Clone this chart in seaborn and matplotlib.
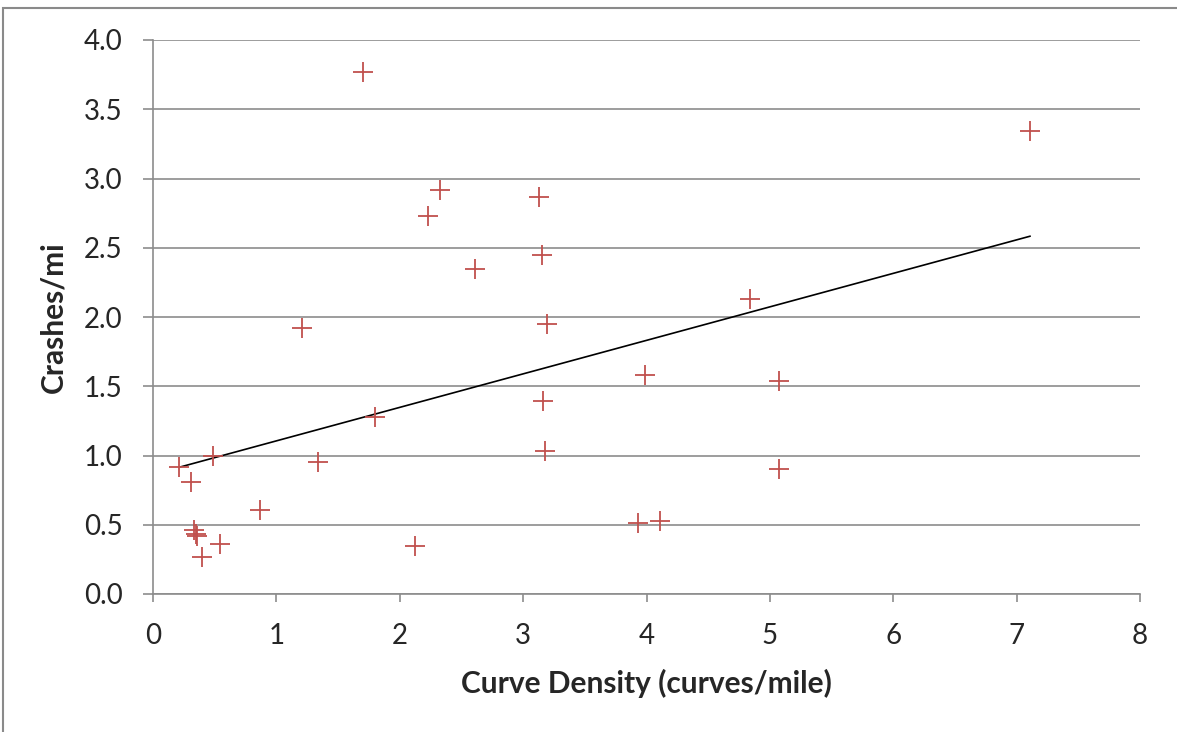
#%% IMPORTS
from matplotlib import pyplot as plt
from matplotlib.patches import Rectangle
from pandas import DataFrame
import seaborn as sns

#%% DATA
curve_density = [0.21, 0.49, 0.31, 0.87, 0.33, 0.35, 0.36, 0.54, 0.40,
                 1.70, 1.21, 1.80, 1.34, 2.12, 2.23, 2.33, 2.61,
                 3.13, 3.15, 3.19, 3.16, 3.18, 3.99, 3.93, 4.11,
                 4.84, 5.07, 5.07, 7.11]
crashes_per_mi = [0.92, 1.00, 0.81, 0.61, 0.46, 0.43, 0.42, 0.36, 0.27,
                  3.77, 1.92, 1.28, 0.95, 0.35, 2.73, 2.92, 2.35,
                  2.87, 2.45, 1.95, 1.39, 1.03, 1.58, 0.51, 0.53,
                  2.13, 1.54, 0.90, 3.34]
x_ticks = [0, 1, 2, 3, 4, 5, 6, 7, 8]
y_ticks = [0.0, 0.5, 1.0, 1.5, 2.0, 2.5, 3.0, 3.5, 4.0]

x_label = "Curve Density (curves/mile)"
y_label = "Crashes/mi"

#%% STYLE
sns.set_style("white")
plt.rcParams["font.family"] = ["Lato", "DejaVu Sans"]

GRID_COLOR = "#8c8c8c"
MARK_COLOR = "#c0504d"

#%% PLOT
df = DataFrame({"x": curve_density, "y": crashes_per_mi})

fig = plt.figure(figsize=(11.77, 7.32), dpi=100)
ax = fig.add_axes([153 / 1177, 1 - 594 / 732, (1140 - 153) / 1177, (594 - 40) / 732])

# outer chart frame (Excel chart area border)
fig.patches.append(Rectangle((3 / 1177, -0.05), 1.1, 1.05 - 7.5 / 732,
                             transform=fig.transFigure, fill=False,
                             edgecolor="#8a8a8a", linewidth=1.5))

ax.set_axisbelow(True)
ax.yaxis.grid(True, color=GRID_COLOR, linewidth=1.2)
ax.xaxis.grid(False)

sns.scatterplot(data=df, x="x", y="y", marker="+", color=MARK_COLOR,
                s=210, linewidth=1.3, ax=ax, zorder=3)
sns.regplot(data=df, x="x", y="y", scatter=False, ci=None, truncate=True,
            line_kws={"color": "black", "linewidth": 1.2}, ax=ax)

ax.set_xlim(0, 8)
ax.set_ylim(0, 4)
ax.set_xticks(x_ticks)
ax.set_yticks(y_ticks)
ax.set_xticklabels([str(v) for v in x_ticks])
ax.set_yticklabels([f"{v:.1f}" for v in y_ticks])
ax.tick_params(axis="both", labelsize=20, colors=GRID_COLOR, labelcolor="#262626",
               width=1.2, direction="out")
ax.tick_params(axis="y", length=7, pad=15, left=True)
ax.tick_params(axis="x", length=6, pad=15, bottom=True)

for side in ["top", "right"]:
    ax.spines[side].set_visible(False)
for side in ["left", "bottom"]:
    ax.spines[side].set_color(GRID_COLOR)
    ax.spines[side].set_linewidth(1.2)

ax.set_xlabel(x_label, fontsize=21.5, fontweight="bold", labelpad=14)
ax.set_ylabel(y_label, fontsize=21.5, fontweight="bold", labelpad=12)

fig.savefig("out.png", dpi=100)
